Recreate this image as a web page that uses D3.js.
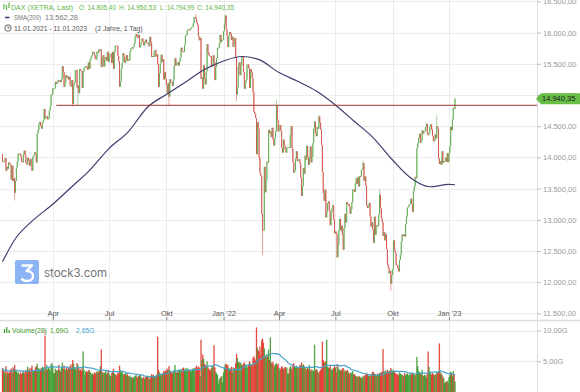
<!DOCTYPE html>
<html>
<head>
<meta charset="utf-8">
<script src="https://d3js.org/d3.v7.min.js"></script>
<title>DAX</title>
<style>
  body { margin: 0; background: #fff; }
  svg { display: block; font-family: "Liberation Sans", Arial, sans-serif; }
</style>
</head>
<body>
<div id="chart"></div>
<script>
// daily closes (Xetra, every weekday from 11.01.2021), one row per month
var closes2021 = [
  13937,13925,13940,13988,13787, 13848,13815,13921,13906,13873, 13643,13870,13620,13665,13432,
  13622,13835,13933,14060,14057, 14059,14011,13933,13920,14050, 14109,14033,13909,13887,13993, 13950,13865,13976,13879,13786,
  14012,14039,14080,14056,13920, 14380,14437,14540,14569,14502, 14461,14557,14597,14776,14621, 14657,14662,14610,14621,14748, 14817,15008,15008,
  15107,15107, 15107,15212,15177,15203,15234, 15215,15234,15209,15255,15460, 15368,15130,15196,15320,15280, 15296,15249,15292,15154,15136,
  15236,14856,15170,15197,15400, 15400,15120,15150,15031,15417, 15397,15386,15113,15370,15438, 15438,15465,15451,15407,15520, 15421,
  15568,15602,15632,15693, 15677,15640,15581,15571,15693, 15673,15729,15711,15728,15448, 15603,15636,15456,15589,15607, 15554,15691,15531,
  15603,15650, 15662,15511,15692,15420,15688, 15790,15789,15788,15630,15540, 15133,15216,15422,15515,15669, 15619,15519,15570,15640,15544,
  15568,15555,15692,15745,15761, 15745,15770,15826,15937,15977, 15925,15922,15965,15765,15808, 15852,15905,15860,15794,15852, 15888,15835,
  15824,15840,15781, 15932,15843,15610,15623,15609, 15701,15722,15616,15652,15491, 15132,15349,15507,15644,15531, 15573,15249,15365,15260,
  15156, 15036,15195,14973,15252,15206, 15199,15146,15249,15462,15587, 15474,15516,15522,15473,15543, 15599,15757,15705,15696,15688,
  15806,15954,15959,16029,16054, 16046,16040,16067,16083,16094, 16148,16247,16251,16221,16160, 16115,15937,15878,15917,15257, 15280,15100,
  15473,15263,15170, 15380,15813,15687,15639,15623, 15621,15453,15476,15637,15531, 15239,15451,15593,15756,15756, 15821,15964,15852,15885,15885
];
var closes2022 = [
  16021,16152,16271,16052,15948, 15768,15942,16010,15988,15883, 15934,15772,15810,15912,15603, 15011,15123,15460,15524,15318, 15471,
  15619,15613,15368,15099, 15206,15242,15482,15490,15425, 15113,15412,15370,15268,15042, 14731,14693,14631,14052,14567, 14461,
  14000,13746,13698,13094, 12835,12831,13848,13442,13628, 13929,13917,14440,14388,14413, 14326,14474,14283,14191,14306, 14418,14821,14606,14415,
  14446, 14518,14424,14152,14078,14284, 14193,14124,14077,14164,14164, 14164,14153,14362,14502,14143, 13924,13756,13793,13979,14098,
  13940,13970,13971,13902,13674, 13381,13535,13828,13739,14027, 13964,14186,14008,13882,13982, 14175,13919,14008,14231,14462, 14575,14388,
  14340,14485,14460, 14653,14556,14445,14199,13762, 13427,13304,13483,13038,13126, 13265,13292,13145,12913,13118, 13186,13232,13003,12784,
  12813, 12773,12401,12595,12843,13015, 12832,12906,12756,12519,12864, 13096,12959,13282,13247,13254, 13210,13097,13166,13282,13484,
  13479,13449,13587,13662,13574, 13687,13535,13700,13694,13795, 13817,13910,13626,13697,13544, 13230,13194,13221,13271,13057, 12892,12961,12835,
  12631,13050, 12761,12871,12916,12904,13088, 13403,13188,13028,12957,12741, 12803,12671,12767,12532,12284, 12228,12140,12183,11976,12114,
  12209,12670,12517,12471,12273, 12272,12219,12172,12356,12438, 12649,12765,12742,12767,12731, 12931,13053,13196,13211,13243, 13253,
  13338,13257,13130,13460, 13533,13688,13667,14146,14225, 14313,14379,14234,14266,14431, 14380,14422,14428,14484,14541, 14383,14355,14397,
  14490,14529, 14448,14343,14261,14264,14371, 14306,14497,14460,13986,13894, 13942,13885,14098,13914,13941, 13941,13995,13925,14071,13924
];
var closes2023 = [14069,14181,14490,14436,14610,14792,14775,14940.35];
var firstOpen = 14050;

// intraday extremes that stick out in the chart
var wickDates = ["2021-01-29","2021-05-04","2021-05-12","2021-10-06","2021-11-18","2022-01-05","2022-01-24",
  "2022-03-07","2022-03-29","2022-06-06","2022-07-05","2022-08-16","2022-09-12","2022-09-29","2022-12-13","2023-01-11"];
var wickValues = [13310,14816,14816,14819,16290,16285,14900,12440,14925,14680,12390,13948,13490,11862,14675,14950];

// daily volume in G
var volumes2021 = [
  3.9,3.4,3.1,3.6,4.2, 2.9,3.3,3.0,3.2,3.5, 3.8,3.1,4.0,3.7,4.4,
  3.6,3.4,3.1,3.3,3.0, 2.8,3.2,2.9,3.1,3.4, 3.0,3.3,3.6,3.2,4.1, 3.5,3.8,3.4,3.9,4.3,
  3.6,3.3,3.5,4.0,4.2, 4.6,3.9,3.7,3.8,3.6, 3.9,4.1,4.0,3.7,10.1, 3.5,4.4,3.6,3.9,3.8, 3.4,4.5,4.7,
  4.1,3.0, 3.1,3.8,3.4,3.6,3.5, 4.4,3.6,3.3,3.9,4.8, 3.7,4.3,3.8,3.5,4.0, 3.6,3.9,3.7,4.2,4.5,
  3.9,5.2,4.6,3.8,4.0, 3.6,4.7,4.4,3.9,3.5, 3.7,3.4,4.1,6.6,3.6, 2.8,3.3,3.4,3.2,3.5, 3.6,
  3.3,3.1,2.9,3.0, 2.8,3.2,3.0,3.1,3.4, 3.2,3.3,3.5,4.2,6.9, 3.3,3.0,3.2,3.1,3.4, 2.9,3.1,3.6,
  3.0,2.7, 2.6,3.1,3.4,3.8,3.0, 2.9,2.8,2.7,3.2,3.0, 4.3,3.6,3.1,3.3,3.0, 2.8,2.9,3.1,2.7,3.0,
  2.6,2.5,2.7,2.4,2.3, 2.4,2.2,2.5,2.6,2.8, 2.5,2.3,2.6,2.7,2.9, 2.4,2.2,2.3,2.5,2.1, 2.4,2.6,
  2.5,2.6,2.3, 2.0,2.6,2.9,2.7,2.8, 2.6,2.5,2.7,2.9,9.0, 3.6,3.2,3.0,2.8,2.9, 3.1,3.4,3.2,3.5,
  3.4, 3.8,3.5,4.2,3.6,3.3, 3.2,3.0,3.4,3.6,4.4, 3.3,3.1,3.5,3.2,3.6, 3.4,3.7,3.3,3.9,4.0,
  3.6,3.8,3.5,3.9,3.7, 3.4,3.6,3.5,3.3,3.8, 3.6,3.9,3.7,4.0,4.3, 3.8,4.1,4.0,2.6,8.5, 5.2,6.1,
  5.4,4.6,4.4, 4.1,5.0,4.0,3.8,3.6, 3.5,3.9,4.2,4.4,7.6, 4.0,3.3,3.0,2.8,1.4, 2.0,2.3,2.4,2.6,1.6
];
var volumes2022 = [
  3.2,4.0,4.5,4.6,4.3, 4.4,3.9,3.8,3.7,4.1, 3.2,4.0,3.9,3.8,4.7, 6.2,5.5,4.8,4.9,4.6, 4.8,
  4.4,4.3,4.6,4.8, 4.5,4.1,4.4,3.9,4.5, 5.0,4.6,4.4,4.2,5.6, 5.8,5.4,5.1,10.5,7.2, 6.8,
  6.6,7.4,6.0,8.4, 8.7,8.0,7.1,5.9,5.6, 6.2,5.8,6.9,5.2,8.9, 4.8,4.6,4.9,4.4,4.1, 4.5,4.7,4.3,4.6,
  3.9, 3.6,3.8,4.2,4.0,3.7, 3.9,4.1,3.8,4.0,3.0, 3.0,3.8,4.2,4.0,3.6, 4.5,4.7,4.1,4.0,4.3,
  4.0,3.8,3.9,4.4,4.2, 4.8,4.3,4.5,4.2,3.9, 3.6,3.8,3.9,3.7,4.4, 3.5,3.7,3.4,3.6,3.3, 7.7,3.5,
  3.7,3.6,3.2, 3.0,3.4,3.6,3.8,8.2, 5.2,4.8,4.9,5.0,8.5, 4.1,4.0,3.9,4.4,3.8, 3.5,3.7,3.9,4.2,
  4.0, 3.2,4.5,4.1,3.7,3.5, 3.6,3.4,3.8,3.9,3.6, 3.3,3.5,3.4,3.6,3.2, 2.9,3.1,3.0,3.2,3.4,
  2.8,2.9,2.7,2.6,2.5, 2.4,2.6,2.5,2.3,2.4, 2.2,2.6,2.7,2.5,2.8, 3.1,2.9,2.7,2.6,2.5, 2.9,3.0,3.3,
  3.2,3.0, 2.9,2.7,2.8,3.0,2.9, 3.1,3.0,3.2,3.3,7.0, 3.4,3.2,3.5,3.1,3.6, 3.4,3.3,3.5,3.9,3.6,
  3.3,3.6,3.4,3.1,3.0, 2.8,2.9,2.7,3.2,3.0, 2.9,2.8,2.7,2.6,3.1, 2.7,2.9,3.0,2.8,2.6, 3.1,
  2.8,2.9,3.0,3.1, 2.7,2.8,2.9,5.7,4.2, 3.4,3.2,3.0,2.9,3.6, 2.7,2.6,2.8,2.7,2.3, 2.9,6.6,4.1,
  3.2,3.0, 2.8,3.1,2.9,2.7,2.8, 2.9,3.3,3.0,3.4,7.9, 3.2,3.0,2.8,2.5,2.2, 1.4,1.6,1.7,1.8,1.5
];
var volumes2023 = [2.4,2.8,3.3,3.1,2.6,3.4,2.9,1.7];

// SMA(200)
var smaDates = ["2021-01-11","2021-02-01","2021-03-01","2021-04-01","2021-05-03","2021-06-01","2021-07-01",
  "2021-08-02","2021-09-01","2021-10-01","2021-11-01","2021-12-01","2022-01-03","2022-02-01","2022-03-01",
  "2022-04-01","2022-05-02","2022-06-01","2022-07-01","2022-08-01","2022-09-01","2022-10-03","2022-11-01",
  "2022-12-01","2023-01-02","2023-01-11"];
var smaValues = [12330,12700,12990,13250,13530,13800,14145,14410,14800,15010,15195,15400,15545,15617,15566,
  15360,15224,15064,14840,14588,14310,13958,13670,13530,13568,13562];

var supportLevel = 14835, supportFrom = "2021-04-07";
var tickMonths = ["2021-04","2021-07","2021-10","2022-01","2022-04","2022-07","2022-10","2023-01"];
var tickLabels = ["Apr","Jul","Okt","Jan '22","Apr","Jul","Okt","Jan '23"];
var priceTicks = d3.range(11500, 16501, 500);
var volTicks = [5, 10];

var W = 580, H = 392, axisX = 537;

var closes = closes2021.concat(closes2022, closes2023);
var volumes = volumes2021.concat(volumes2022, volumes2023);
var days = d3.timeDay.range(new Date(2021, 0, 11), new Date(2023, 0, 12))
  .filter(function(d) { return d.getDay() % 6 != 0; });

var iso = d3.timeFormat("%Y-%m-%d"), ym = d3.timeFormat("%Y-%m");
function idxOf(s) { return days.findIndex(function(d) { return iso(d) >= s; }); }

var data = closes.map(function(c, i) {
  var o = i == 0 ? firstOpen : closes[i - 1];
  return { i: i, o: o, c: c, h: Math.max(o, c), l: Math.min(o, c), v: volumes[i], up: c >= o };
});
wickDates.forEach(function(s, k) {
  var d = data[idxOf(s)];
  d.h = Math.max(d.h, wickValues[k]);
  d.l = Math.min(d.l, wickValues[k]);
});
// Volume(28) average
data.forEach(function(d, i) {
  var w = data.slice(Math.max(0, i - 27), i + 1);
  d.ma = d3.mean(w, function(e) { return e.v; });
});

var de = d3.formatLocale({ decimal: ",", thousands: ".", grouping: [3], currency: ["", "€"] });
var fmtP = de.format(",.2f");

var x = d3.scaleLinear().domain([0, days.length - 1]).range([2.5, 455]);
var y = d3.scaleLinear().domain([11500, 16500]).range([313.4, 1.4]);
var yv = d3.scaleLinear().domain([0, 10]).range([392, 330.5]);

var svg = d3.select("#chart").append("svg").attr("width", W).attr("height", H);
svg.append("rect").attr("width", W).attr("height", H).attr("fill", "#fff");

var tickIdx = tickMonths.map(function(m) { return days.findIndex(function(d) { return ym(d) == m; }); });

// grid
var grid = svg.append("g").attr("stroke", "#ececec").attr("stroke-width", 1);
grid.selectAll(".gy").data(priceTicks).enter().append("line")
  .attr("x1", 0).attr("x2", axisX).attr("y1", function(d) { return Math.round(y(d)) + 0.5; })
  .attr("y2", function(d) { return Math.round(y(d)) + 0.5; });
grid.selectAll(".gv").data(volTicks).enter().append("line")
  .attr("x1", 0).attr("x2", axisX).attr("y1", function(d) { return Math.round(yv(d)) + 0.5; })
  .attr("y2", function(d) { return Math.round(yv(d)) + 0.5; });
grid.selectAll(".gx").data(tickIdx).enter().append("line")
  .attr("x1", function(d) { return Math.round(x(d)) + 0.5; }).attr("x2", function(d) { return Math.round(x(d)) + 0.5; })
  .attr("y1", 0).attr("y2", H);

// panel separator + right axis line
svg.append("line").attr("x1", 0).attr("x2", W).attr("y1", 320.5).attr("y2", 320.5)
  .attr("stroke", "#dcdcdc").attr("stroke-width", 1.5);
svg.append("line").attr("x1", axisX + 0.5).attr("x2", axisX + 0.5).attr("y1", 0).attr("y2", H)
  .attr("stroke", "#dedede");

// watermark
var wm = svg.append("g").attr("opacity", 0.85);
wm.append("rect").attr("x", 15).attr("y", 260).attr("width", 24).attr("height", 24).attr("rx", 2).attr("fill", "#79a6f2");
wm.append("path").attr("d", "M21.5,265.5 H32 L26.5,271 C31,271 33,273.5 33,276 C33,279.5 30,281 27,281 C24.5,281 22.5,280 21.5,278.5")
  .attr("fill", "none").attr("stroke", "#fff").attr("stroke-width", 2.4).attr("stroke-linejoin", "round");
wm.append("text").attr("x", 44).attr("y", 276.5).attr("font-size", 11.5).attr("fill", "#5a5a5a")
  .attr("font-family", "Inter, 'Liberation Sans', sans-serif").text("stock3.com");

// volume bars
svg.append("g").selectAll("rect").data(data).enter().append("rect")
  .attr("x", function(d) { return x(d.i) - 0.65; }).attr("width", 1.3)
  .attr("y", function(d) { return yv(d.v); }).attr("height", function(d) { return yv(0) - yv(d.v); })
  .attr("fill", function(d) { return d.up ? "#3c9a2c" : "#e0362c"; }).attr("opacity", 0.9);
svg.append("path").datum(data)
  .attr("d", d3.line().x(function(d) { return x(d.i); }).y(function(d) { return yv(d.ma); }))
  .attr("fill", "none").attr("stroke", "#45a3cc").attr("stroke-width", 1.2);

// candles
var cg = svg.append("g");
cg.selectAll("line").data(data).enter().append("line")
  .attr("x1", function(d) { return x(d.i); }).attr("x2", function(d) { return x(d.i); })
  .attr("y1", function(d) { return y(d.h); }).attr("y2", function(d) { return y(d.l); })
  .attr("stroke", function(d) { return d.up ? "#7cbf70" : "#de7a72"; }).attr("stroke-width", 0.7);
cg.selectAll("rect").data(data).enter().append("rect")
  .attr("x", function(d) { return x(d.i) - 0.5; }).attr("width", 1)
  .attr("y", function(d) { return y(Math.max(d.o, d.c)); })
  .attr("height", function(d) { return Math.max(0.8, Math.abs(y(d.o) - y(d.c))); })
  .attr("fill", function(d) { return d.up ? "#64ae57" : "#d65a52"; });

// SMA(200)
var sma = smaDates.map(function(s, k) { return { i: idxOf(s), v: smaValues[k] }; });
svg.append("path").datum(sma)
  .attr("d", d3.line().curve(d3.curveMonotoneX).x(function(d) { return x(d.i); }).y(function(d) { return y(d.v); }))
  .attr("fill", "none").attr("stroke", "#3f3d6c").attr("stroke-width", 1.2);

// horizontal line
svg.append("line").attr("x1", x(idxOf(supportFrom))).attr("x2", axisX)
  .attr("y1", y(supportLevel)).attr("y2", y(supportLevel))
  .attr("stroke", "#a3352e").attr("stroke-width", 1);

// price axis
var ay = svg.append("g").attr("transform", "translate(" + axisX + ",0)")
  .call(d3.axisRight(y).tickValues(priceTicks).tickFormat(fmtP).tickSize(4).tickPadding(2));
ay.select(".domain").remove();
ay.selectAll("line").attr("stroke", "#bbb");
ay.selectAll("text").attr("fill", "#999").attr("font-size", 7.5).attr("font-family", null);

var av = svg.append("g").attr("transform", "translate(" + axisX + ",0)")
  .call(d3.axisRight(yv).tickValues(volTicks).tickFormat(function(d) { return de.format(".2f")(d) + "G"; })
    .tickSize(4).tickPadding(2));
av.select(".domain").remove();
av.selectAll("line").attr("stroke", "#bbb");
av.selectAll("text").attr("fill", "#999").attr("font-size", 7.5).attr("font-family", null);

// time axis
var ax = svg.append("g").attr("transform", "translate(0,320)")
  .call(d3.axisTop(x).tickValues(tickIdx).tickFormat(function(d, k) { return tickLabels[k]; }).tickSize(3).tickPadding(1));
ax.select(".domain").remove();
ax.selectAll("line").attr("stroke", "#888");
ax.selectAll("text").attr("fill", "#555").attr("font-size", 7.5).attr("font-family", null);

// last price label
var last = data[data.length - 1], ly = y(last.c);
svg.append("path").attr("d", "M" + (axisX - 1) + "," + ly + " L" + (axisX + 4) + "," + (ly - 5.5) + " H" + W +
  " V" + (ly + 5.5) + " H" + (axisX + 4) + " Z").attr("fill", "#67bd45");
svg.append("text").attr("x", axisX + 5).attr("y", ly).attr("dy", "0.35em").attr("font-size", 7.5)
  .attr("fill", "#1c1c1c").text(fmtP(last.c));

// legends
var lg = svg.append("g").attr("font-size", 6.8);
var ic = lg.append("g").attr("stroke", "#62b546").attr("stroke-width", 1.2);
[[4, 4, 9], [6.5, 5, 10], [9, 2.5, 8]].forEach(function(b) {
  ic.append("line").attr("x1", b[0]).attr("x2", b[0]).attr("y1", b[1]).attr("y2", b[2]);
});
var row1 = [["DAX (XETRA, Last)", 11, 62], ["O: 14.805,40", 79, 37], ["H: 14.950,53", 119, 37],
  ["L: 14.794,99", 160, 34.5], ["C: 14.940,35", 197, 37]];
row1.forEach(function(t) {
  lg.append("text").attr("x", t[1]).attr("y", 9.5).attr("fill", "#62b546")
    .attr("textLength", t[2]).attr("lengthAdjust", "spacingAndGlyphs").text(t[0]);
});
lg.append("line").attr("x1", 5).attr("x2", 9.5).attr("y1", 17.5).attr("y2", 17.5).attr("stroke", "#3f3d6c").attr("stroke-width", 1.6);
lg.append("text").attr("x", 14).attr("y", 20).attr("fill", "#777")
  .attr("textLength", 27).attr("lengthAdjust", "spacingAndGlyphs").text("SMA(200)");
lg.append("text").attr("x", 45).attr("y", 20).attr("fill", "#777")
  .attr("textLength", 33).attr("lengthAdjust", "spacingAndGlyphs").text("13.562,28");
lg.append("circle").attr("cx", 8).attr("cy", 28).attr("r", 3.2).attr("fill", "none").attr("stroke", "#555").attr("stroke-width", 0.9);
lg.append("path").attr("d", "M8,26 V28 H9.6").attr("fill", "none").attr("stroke", "#555").attr("stroke-width", 0.8);
lg.append("text").attr("x", 14).attr("y", 30.5).attr("fill", "#555").text("11.01.2021 - 11.01.2023");
lg.append("text").attr("x", 95).attr("y", 30.5).attr("fill", "#555").text("(2 Jahre, 1 Tag)");

var vl = svg.append("g").attr("font-size", 6.8);
vl.append("rect").attr("x", 0).attr("y", 325).attr("width", 100).attr("height", 11).attr("fill", "#fff").attr("opacity", 0.6);
var vi = vl.append("g").attr("stroke", "#3c9a2c").attr("stroke-width", 1.2);
[[4.5, 329], [6.8, 327], [9.1, 330]].forEach(function(b) {
  vi.append("line").attr("x1", b[0]).attr("x2", b[0]).attr("y1", b[1]).attr("y2", 333);
});
vl.append("text").attr("x", 12).attr("y", 332.5).attr("fill", "#3c9a2c").text("Volume(28)");
vl.append("text").attr("x", 50).attr("y", 332.5).attr("fill", "#3c9a2c").text("1,69G");
vl.append("text").attr("x", 76).attr("y", 332.5).attr("fill", "#45a3cc").text("2,65G");
</script>
</body>
</html>
